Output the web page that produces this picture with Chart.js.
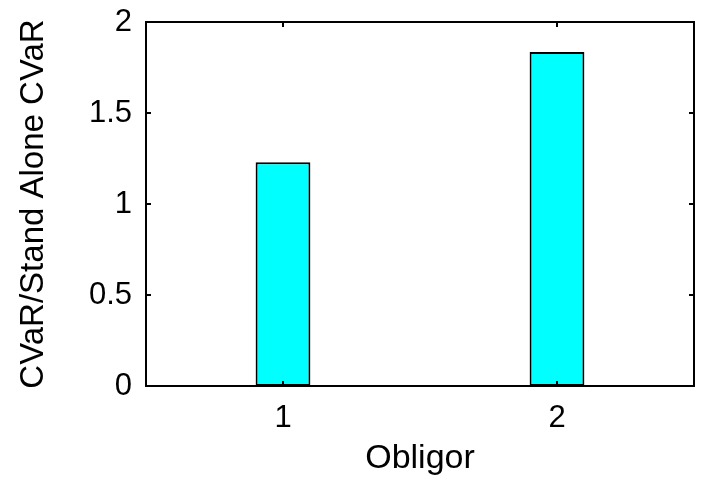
<!DOCTYPE html>
<html>
<head>
<meta charset="utf-8">
<script src="https://cdn.jsdelivr.net/npm/chart.js@4.4.0/dist/chart.umd.min.js"></script>
<style>
  html, body { margin: 0; padding: 0; background: #fff; }
  #wrap { width: 702px; height: 484px; }
</style>
</head>
<body>
<div id="wrap"><canvas id="myChart" width="702" height="484"></canvas></div>
<script>
const obligors = ['1', '2'];
const cvarRatio = [1.23, 1.835];
const yTicks = [0, 0.5, 1, 1.5, 2];

const fontFam = '"Liberation Sans", Arial, sans-serif';

// matlab style frame with inward ticks on all four sides
const framePlugin = {
  id: 'frame',
  afterDatasetsDraw(chart) {
    let c = chart.ctx, a = chart.chartArea;
    let xs = chart.scales.x, ys = chart.scales.y;
    c.save();
    c.strokeStyle = '#000';
    c.lineWidth = 2;
    c.strokeRect(a.left, a.top, a.right - a.left, a.bottom - a.top);
    c.beginPath();
    yTicks.forEach(v => {
      let py = Math.round(ys.getPixelForValue(v));
      c.moveTo(a.left, py); c.lineTo(a.left + 5, py);
      c.moveTo(a.right, py); c.lineTo(a.right - 5, py);
    });
    obligors.forEach((o, i) => {
      let px = Math.round(xs.getPixelForValue(i));
      c.moveTo(px, a.bottom); c.lineTo(px, a.bottom - 5);
      c.moveTo(px, a.top); c.lineTo(px, a.top + 5);
    });
    c.stroke();
    c.restore();
  }
};

var myChart = new Chart(document.getElementById('myChart'), {
  type: 'bar',
  data: {
    labels: obligors,
    datasets: [{
      data: cvarRatio,
      backgroundColor: '#00FFFF',
      borderColor: '#000',
      borderWidth: 2,
      borderSkipped: false,
      categoryPercentage: 1,
      barPercentage: 0.2
    }]
  },
  options: {
    responsive: false,
    animation: false,
    layout: { padding: { left: 0, top: 22, right: 8, bottom: 0 } },
    plugins: { legend: { display: false }, tooltip: { enabled: false } },
    scales: {
      x: {
        offset: true,
        grid: { display: false, drawTicks: false },
        border: { display: false },
        ticks: { color: '#000', padding: 14, font: { family: fontFam, size: 31 } },
        title: { display: true, text: 'Obligor', color: '#000', padding: { top: 8, bottom: 5 },
                 font: { family: fontFam, size: 34 } },
        afterFit(s) { s.height = 98; s.paddingLeft = 0; s.paddingRight = 0; }
      },
      y: {
        min: 0, max: 2,
        grid: { display: false, drawTicks: false },
        border: { display: false },
        ticks: {
          stepSize: 0.5, color: '#000', padding: 14, font: { family: fontFam, size: 31 },
          callback: v => String(v)
        },
        title: { display: true, text: 'CVaR/Stand Alone CVaR', color: '#000', padding: { top: 14, bottom: 10 },
                 font: { family: fontFam, size: 33 } },
        afterFit(s) { s.width = 146; s.paddingTop = 0; s.paddingBottom = 0; }
      }
    }
  },
  plugins: [framePlugin]
});
</script>
</body>
</html>
